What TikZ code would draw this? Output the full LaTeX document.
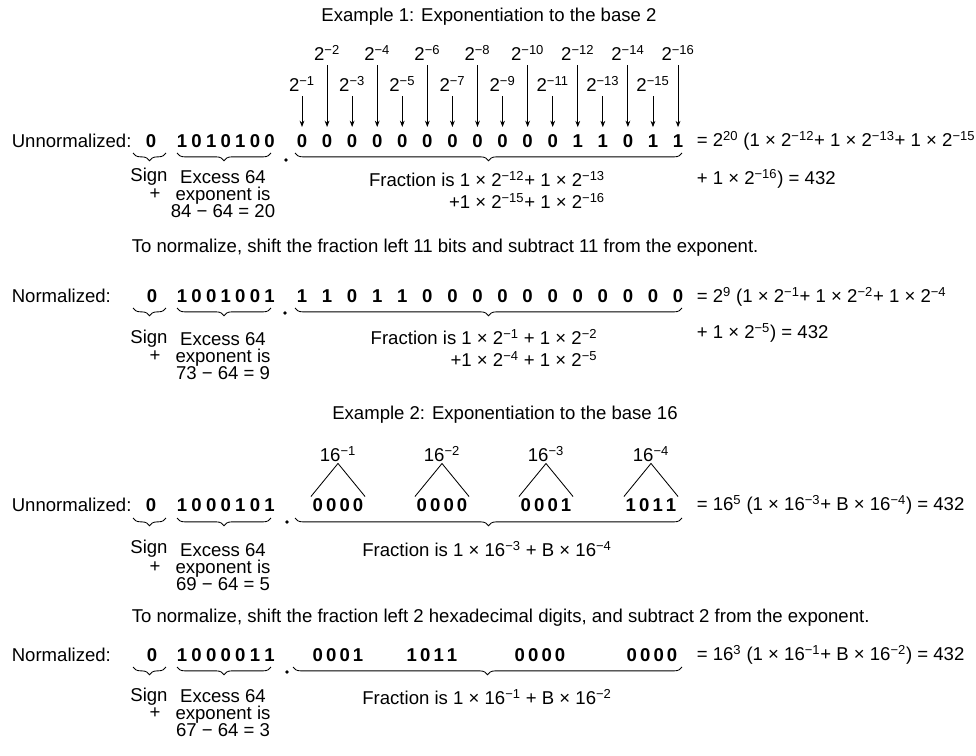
\documentclass[tikz,border=0pt]{standalone}
\usepackage{fontspec}
\setmainfont{Liberation Sans}
\usepackage{tikz}
\usetikzlibrary{arrows.meta,positioning,calc,decorations.pathreplacing}

\newcommand{\pw}[2]{#1\textsuperscript{#2}}

\begin{document}
\begin{tikzpicture}[x=0.025cm, y=-0.025cm, line width=0.6pt,
    every node/.style={inner sep=1pt, font=\fontsize{13.2}{12.2}\selectfont},
    bit/.style={font=\fontsize{13.2}{12.2}\selectfont\bfseries},
    arr/.style={-{Stealth[length=4.5pt, width=3.4pt]}, shorten <=2pt, shorten >=4pt},
    brc/.style={decorate, decoration={brace, mirror, amplitude=5.5pt}},
    note/.style={align=center},
    frac/.style={align=right}]
    \useasboundingbox (0,0) rectangle (976,756);

    % Example 1 (base 2)
    \node (title1) at (489,17) {Example 1: Exponentiation to the base 2};

    % unnormalized word
    \node[anchor=west] (lab1) at (10,141) {Unnormalized:};
    \node[bit] (sgn1) at (151,141) {0};
    \foreach \b [count=\k] in {1,0,1,0,1,0,0}
      \node[bit] (ex1-\k) at ({182+14.6*(\k-1)},141) {\b};
    \foreach \b [count=\k] in {0,0,0,0,0,0,0,0,0,0,0,1,1,0,1,1}
      \node[bit] (fr1-\k) at ({302+25.07*(\k-1)},141) {\b};
    \fill (286,160) circle (1.3pt);

    % weights of the fraction bits
    \foreach \k in {1,...,16} {
      \ifodd\k
        \node (w\k) at ({302+25.07*(\k-1)},84) {\pw{2}{−\k}};
      \else
        \node (w\k) at ({302+25.07*(\k-1)},53) {\pw{2}{−\k}};
      \fi
      \draw[arr] (w\k) -- (fr1-\k);
    }

    \draw[brc] (133,153) -- (166,153);
    \draw[brc] (177,153) -- (271,153);
    \draw[brc] (295,153) -- (682,153);
    \node (sg1) at (149,177) {Sign};
    \node (pls1) at (155,194) {+};
    \node[note] (xs1) at (223,194) {Excess 64\\exponent is\\84 − 64 = 20};
    \node[frac] (fx1) at (487,190) {Fraction is 1 × \pw{2}{−12}+ 1 × \pw{2}{−13}\\[4pt]+1 × \pw{2}{−15}+ 1 × \pw{2}{−16}};
    \node[anchor=west] (eq1) at (695,141) {= \pw{2}{20} (1 × \pw{2}{−12}+ 1 × \pw{2}{−13}+ 1 × \pw{2}{−15}};
    \node[anchor=west] (eq1b) at (695,179) {+ 1 × \pw{2}{−16}) = 432};

    % normalized word
    \node[anchor=west] (shift1) at (130,248) {To normalize, shift the fraction left 11 bits and subtract 11 from the exponent.};
    \node[anchor=west] (lab2) at (10,296) {Normalized:};
    \node[bit] (sgn2) at (152,296) {0};
    \foreach \b [count=\k] in {1,0,0,1,0,0,1}
      \node[bit] (ex2-\k) at ({182+14.6*(\k-1)},296) {\b};
    \foreach \b [count=\k] in {1,1,0,1,1,0,0,0,0,0,0,0,0,0,0,0}
      \node[bit] (fr2-\k) at ({302+25.07*(\k-1)},296) {\b};
    \fill (285,313) circle (1.3pt);

    \draw[brc] (133,308) -- (166,308);
    \draw[brc] (177,308) -- (271,308);
    \draw[brc] (295,308) -- (682,308);
    \node (sg2) at (149,339) {Sign};
    \node (pls2) at (155,356) {+};
    \node[note] (xs2) at (223,356) {Excess 64\\exponent is\\73 − 64 = 9};
    \node[frac] (fx2) at (484,348) {Fraction is 1 × \pw{2}{−1} + 1 × \pw{2}{−2}\\[4pt]+1 × \pw{2}{−4} + 1 × \pw{2}{−5}};
    \node[anchor=west] (eq2) at (695,297) {= \pw{2}{9} (1 × \pw{2}{−1}+ 1 × \pw{2}{−2}+ 1 × \pw{2}{−4}};
    \node[anchor=west] (eq2b) at (695,333) {+ 1 × \pw{2}{−5}) = 432};

    % Example 2 (base 16)
    \node (title2) at (505,415) {Example 2: Exponentiation to the base 16};

    \node[anchor=west] (lab3) at (10,505) {Unnormalized:};
    \node[bit] (sgn3) at (151,505) {0};
    \foreach \b [count=\k] in {1,0,0,0,1,0,1}
      \node[bit] (ex3-\k) at ({182+14.6*(\k-1)},505) {\b};
    \foreach \g/\c [count=\k] in {0\,0\,0\,0/338, 0\,0\,0\,0/442, 0\,0\,0\,1/546, 1\,0\,1\,1/651} {
      \node[bit] (hx3-\k) at (\c,505) {\g};
      \node (wt\k) at (\c,454) {\pw{16}{−\k}};
      \draw (hx3-\k.north west) -- (wt\k.south) -- (hx3-\k.north east);
    }
    \fill (287,522) circle (1.3pt);

    \draw[brc] (133,518) -- (166,518);
    \draw[brc] (177,518) -- (271,518);
    \draw[brc] (295,518) -- (682,518);
    \node (sg3) at (149,549) {Sign};
    \node (pls3) at (155,567) {+};
    \node[note] (xs3) at (223,567) {Excess 64\\exponent is\\69 − 64 = 5};
    \node (fx3) at (487,549) {Fraction is 1 × \pw{16}{−3} + B × \pw{16}{−4}};
    \node[anchor=west] (eq3) at (695,505) {= \pw{16}{5} (1 × \pw{16}{−3}+ B × \pw{16}{−4}) = 432};

    % normalized word
    \node[anchor=west] (shift2) at (130,618) {To normalize, shift the fraction left 2 hexadecimal digits, and subtract 2 from the exponent.};
    \node[anchor=west] (lab4) at (10,655) {Normalized:};
    \node[bit] (sgn4) at (152,655) {0};
    \foreach \b [count=\k] in {1,0,0,0,0,1,1}
      \node[bit] (ex4-\k) at ({182+14.6*(\k-1)},655) {\b};
    \foreach \g/\c [count=\k] in {0\,0\,0\,1/338, 1\,0\,1\,1/432, 0\,0\,0\,0/540, 0\,0\,0\,0/652}
      \node[bit] (hx4-\k) at (\c,655) {\g};
    \fill (287,672) circle (1.3pt);

    \draw[brc] (133,667) -- (166,667);
    \draw[brc] (177,667) -- (271,667);
    \draw[brc] (293,667) -- (682,667);
    \node (sg4) at (149,697) {Sign};
    \node (pls4) at (155,713) {+};
    \node[note] (xs4) at (223,713) {Excess 64\\exponent is\\67 − 64 = 3};
    \node (fx4) at (487,697) {Fraction is 1 × \pw{16}{−1} + B × \pw{16}{−2}};
    \node[anchor=west] (eq4) at (695,655) {= \pw{16}{3} (1 × \pw{16}{−1}+ B × \pw{16}{−2}) = 432};
\end{tikzpicture}
\end{document}
